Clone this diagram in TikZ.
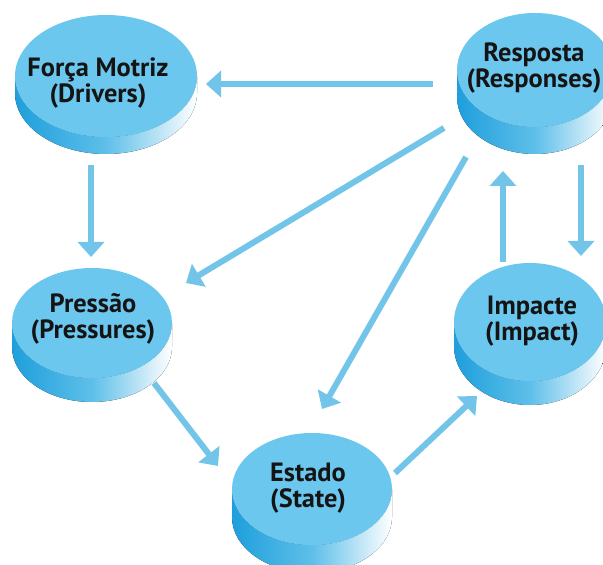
\documentclass[tikz,border=0pt]{standalone}
\usepackage{fontspec}
\setmainfont{PT Sans}
\usetikzlibrary{shapes.geometric,arrows.meta}
\definecolor{topblue}{HTML}{6CC7EE}
\definecolor{sidedark}{HTML}{1E9FDC}
\definecolor{sidemid}{HTML}{5EBFE9}
\definecolor{arrowblue}{HTML}{72C5E8}
\definecolor{txt}{HTML}{141414}
\newcommand\cylside[5]{%
  \fill[left color=sidedark, right color=white, middle color=sidemid]
    ({#1-#3},#2) -- ({#1-#3},{#2-#5})
    arc[start angle=180,end angle=360,x radius=#3bp,y radius=#4bp]
    -- ({#1+#3},#2)
    arc[start angle=0,end angle=-180,x radius=#3bp,y radius=#4bp] -- cycle;
}
\tikzset{
  face/.style={ellipse, fill=topblue, inner sep=0pt},
  label/.style={font=\fontsize{26.5}{26.5}\selectfont\bfseries, text=txt, align=center, inner sep=0pt},
  flow/.style={draw=arrowblue, line width=6bp, -{Triangle[width=26bp,length=15bp]}}
}
\begin{document}
\begin{tikzpicture}[x=1bp,y=1bp]
\useasboundingbox (0,0) rectangle (603,565);
\clip (0,0) rectangle (603,565);
% disks
\cylside{106}{489}{91}{61}{17}
\node[face, minimum width=182bp, minimum height=122bp] (fm) at (106,489) {};
\node[label] (fmt) at (98,482) {Força Motriz\\(Drivers)};

\cylside{535}{495}{78}{57}{27}
\node[face, minimum width=156bp, minimum height=114bp] (resp) at (535,495) {};
\node[label] (respt) at (534,497) {Resposta\\(Responses)};

\cylside{92}{242}{80}{55}{24}
\node[face, minimum width=160bp, minimum height=110bp] (pr) at (92,242) {};
\node[label] (prt) at (93,246) {Pressão\\(Pressures)};

\cylside{530}{243}{76}{59}{24}
\node[face, minimum width=152bp, minimum height=118bp] (im) at (530,243) {};
\node[label] (imt) at (532,244) {Impacte\\(Impact)};

\cylside{312}{76}{80}{56}{28}
\node[face, minimum width=160bp, minimum height=112bp] (es) at (312,76) {};
\node[label] (est) at (308,77) {Estado\\(State)};

% arrow end points
\coordinate (a1s) at (433,481); \coordinate (a1e) at (206,481);
\coordinate (a2s) at (444,437); \coordinate (a2e) at (186,282);
\coordinate (a3s) at (466,408); \coordinate (a3e) at (322,156);
\coordinate (a4s) at (91,400);  \coordinate (a4e) at (91,308);
\coordinate (a5s) at (154,182); \coordinate (a5e) at (218,99);
\coordinate (a6s) at (395,92);  \coordinate (a6e) at (477,169);
\coordinate (a7s) at (503,303); \coordinate (a7e) at (503,394);
\coordinate (a8s) at (581,400); \coordinate (a8e) at (581,309);

\draw[flow] (a1s) -- (a1e);
\draw[flow] (a2s) -- (a2e);
\draw[flow] (a3s) -- (a3e);
\draw[flow] (a4s) -- (a4e);
\draw[flow] (a5s) -- (a5e);
\draw[flow] (a6s) -- (a6e);
\draw[flow] (a7s) -- (a7e);
\draw[flow] (a8s) -- (a8e);
\end{tikzpicture}
\end{document}
